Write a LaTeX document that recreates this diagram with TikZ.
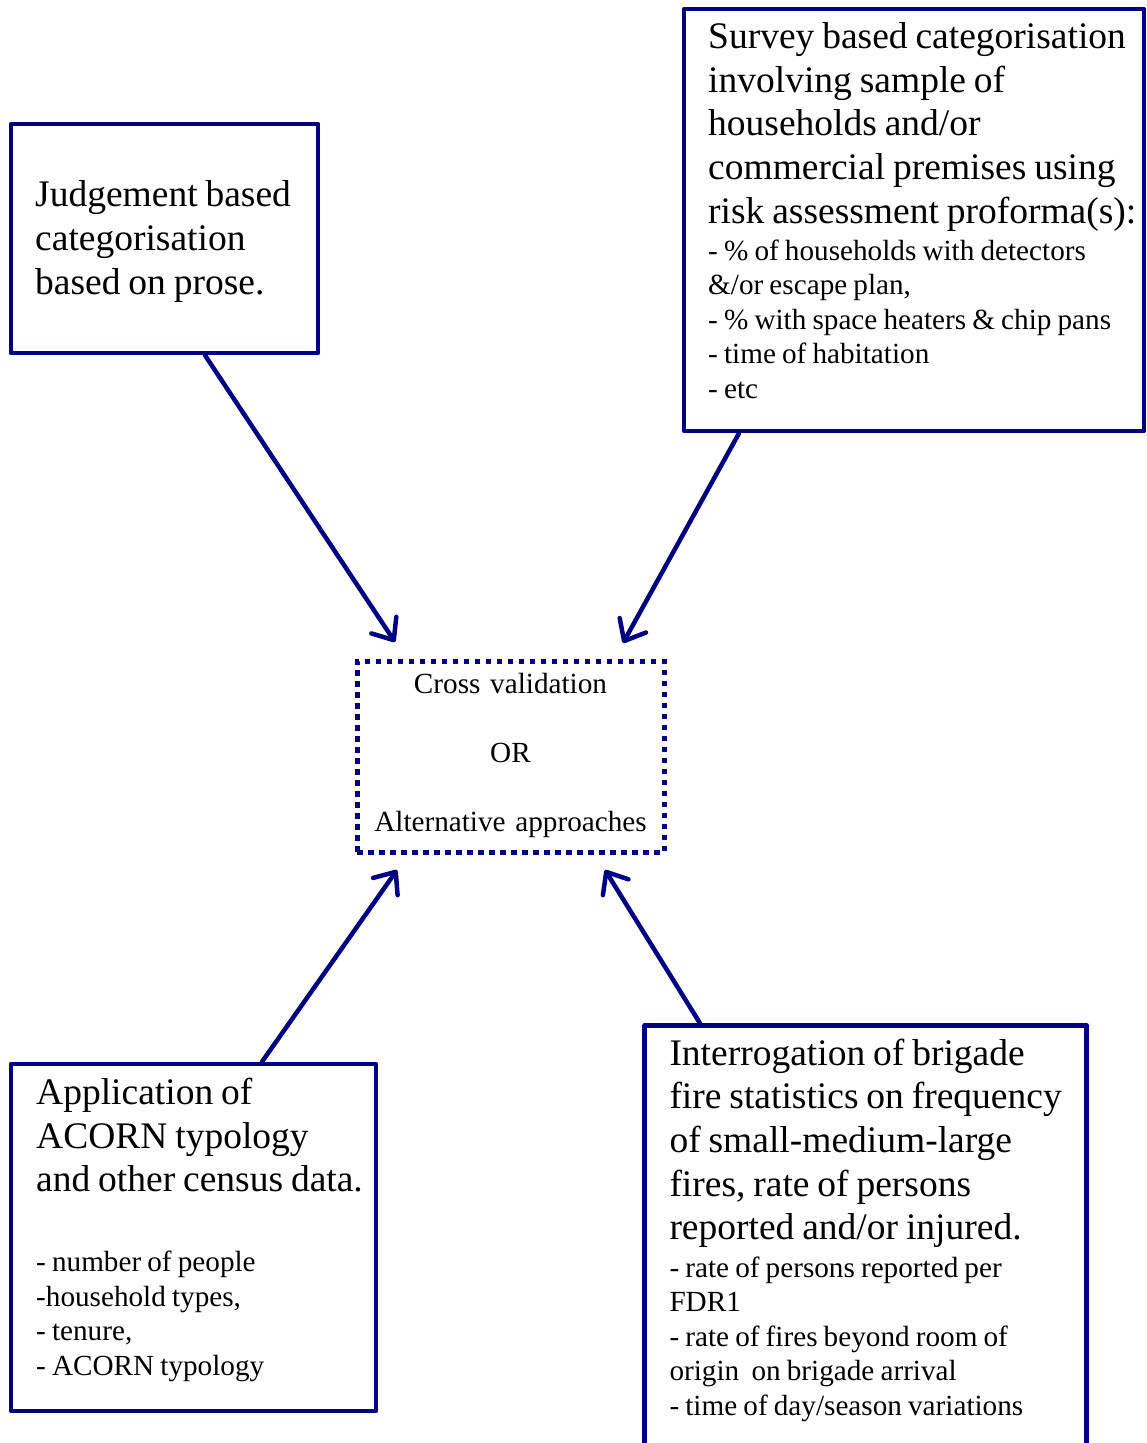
\documentclass[tikz,border=0pt]{standalone}
\usepackage{fontspec}
\setmainfont{Liberation Serif}
\usetikzlibrary{arrows.meta}
\definecolor{navy}{RGB}{0,0,128}
% slightly narrower interword space for the box texts
\newcommand\tightwords{\spaceskip=0.21em\relax\xspaceskip=0.21em\relax}
\begin{document}
\begin{tikzpicture}[x=1pt,y=1pt,
  box/.style={draw=navy,line width=4.5pt,rectangle,inner sep=0pt,line join=round},
  dotbox/.style={draw=navy,line width=5pt,dash pattern=on 5.5pt off 5.5pt,rectangle,inner sep=0pt},
  bigtext/.style={anchor=base west,inner sep=0pt,text width=480pt,
    font=\fontsize{37.5}{43.7}\selectfont,execute at begin node=\tightwords},
  smalltext/.style={anchor=base west,inner sep=0pt,text width=480pt,
    font=\fontsize{29.2}{34.5}\selectfont,execute at begin node=\tightwords},
  centertext/.style={anchor=base,inner sep=0pt,text width=307pt,align=center,
    font=\fontsize{29.2}{34.5}\selectfont},
  arr/.style={draw=navy,line width=4.5pt,line cap=round,
    -{Straight Barb[length=18pt,width=30pt,round]}}
]
\clip (0,0) rectangle (1146,-1443);
\fill[white] (0,0) rectangle (1146,-1443);

% judgement box
\node[box,minimum width=307pt,minimum height=229pt] (judge) at (164.5,-238.5) {};
\node[bigtext] (judgetxt) at (35,-206.7) {Judgement based\\categorisation\\based on prose.};

% survey box
\node[box,minimum width=460pt,minimum height=422pt] (survey) at (914,-220) {};
\node[bigtext] (surveytxt) at (708,-48.3)
  {Survey based categorisation\\involving sample of\\households and/or\\commercial premises using\\risk assessment proforma(s):};
\node[smalltext] (surveylist) at (708,-260)
  {- \% of households with detectors\\\&/or escape plan,\\- \% with space heaters \& chip pans\\- time of habitation\\- etc};

% central box
\node[dotbox,minimum width=307pt,minimum height=191pt] (cv) at (510.5,-756.5) {};
\node[centertext] (cvtxt) at (510.5,-693.3)
  {Cross validation\\[34.5pt]OR\\[34.5pt]Alternative approaches};

% census box
\node[box,minimum width=365pt,minimum height=347pt] (app) at (193.5,-1237.5) {};
\node[bigtext] (apptxt) at (36,-1104.3)
  {Application of\\ACORN typology\\and other census data.};
\node[smalltext] (applist) at (36,-1271.7)
  {- number of people\\-household types,\\- tenure,\\- ACORN typology};

% fire statistics box
\node[box,minimum width=442pt,minimum height=460pt] (interr) at (865.7,-1255.5) {};
\node[bigtext] (interrtxt) at (669.3,-1065)
  {Interrogation of brigade\\fire statistics on frequency\\of small-medium-large\\fires, rate of persons\\reported and/or injured.};
\node[smalltext] (interrlist) at (669.3,-1277.3)
  {- rate of persons reported per\\FDR1\\- rate of fires beyond room of\\origin\ \ on brigade arrival\\- time of day/season variations};

% arrow tips
\coordinate (t1) at (395,-642);
\coordinate (t2) at (623,-643);
\coordinate (t3) at (397,-870);
\coordinate (t4) at (605,-870);

\draw[arr] ([xshift=40.5pt]judge.south) -- (t1);
\draw[arr] ([xshift=-175pt]survey.south) -- (t2);
\draw[arr] ([xshift=68.5pt]app.north) -- (t3);
\draw[arr] ([xshift=-165.7pt]interr.north) -- (t4);
\end{tikzpicture}
\end{document}
